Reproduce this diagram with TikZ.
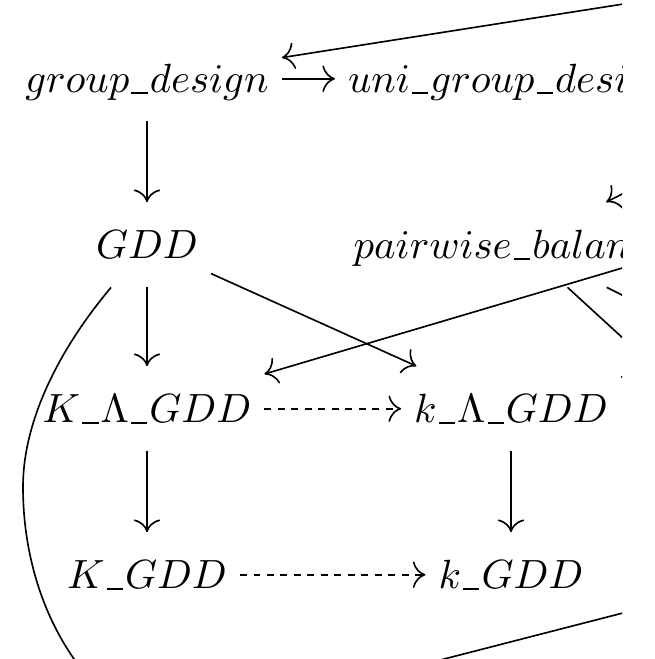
\documentclass[tikz,border=0pt]{standalone}
\usetikzlibrary{arrows.meta}
\newcommand\usc{\mbox{\kern0.5pt\rule[-0.5pt]{4pt}{0.45pt}\kern0.5pt}}
\begin{document}
\begin{tikzpicture}[x=0.245pt,y=-0.245pt,
  cell/.style={inner xsep=3pt, inner ysep=5.5pt, text height=8pt, text depth=1.5pt, anchor=base, font=\fontsize{10}{12}\selectfont},
  arr/.style={-{Computer Modern Rightarrow[scale=1.25]}, line width=0.4pt},
  dasharr/.style={arr, dash pattern=on 1.7pt off 1.6pt},
  plainline/.style={line width=0.4pt}]
\useasboundingbox (0,0) rectangle (654,659);
\clip (0,0) rectangle (622,659);
% nodes
\node[cell] (gd)  at (147,92)  {$group\usc design$};
\node[cell] (ugd) at (511,92)  {$uni\usc group\usc design$};
\node[cell] (gdd) at (147,258) {$GDD$};
\node[cell] (pbd) at (521,258) {$pairwise\usc balanced$};
\node[cell] (KLG) at (147,422) {$K\usc\Lambda\usc GDD$};
\node[cell] (kLG) at (511,422) {$k\usc\Lambda\usc GDD$};
\node[cell] (KG)  at (147,588) {$K\usc GDD$};
\node[cell] (kG)  at (511,588) {$k\usc GDD$};
% off-picture ends
\coordinate (c1)  at (700,-8);
\coordinate (c6)  at (700,245);
\coordinate (c7)  at (721,428);
\coordinate (c8)  at (821,394);
\coordinate (c9)  at (854,78);
\coordinate (c10) at (947,284);
\coordinate (c11) at (100,690);
\coordinate (c12a) at (137,738);
\coordinate (c12b) at (1000,516);
% edges
\draw[arr] (gd) -- (ugd);
\draw[arr] (c1) -- (gd);
\draw[arr] (gd) -- (gdd);
\draw[arr] (gdd) -- (KLG);
\draw[arr] (gdd) -- (kLG);
\draw[arr] (c6) -- (KLG);
\draw[plainline] (pbd) -- (c7);
\draw[plainline] (pbd) -- (c8);
\draw[arr] (c9) -- (pbd);
\draw[arr] (c10) -- (kLG);
\draw[dasharr] (KLG) -- (kLG);
\draw[arr] (KLG) -- (KG);
\draw[arr] (kLG) -- (kG);
\draw[dasharr] (KG) -- (kG);
\draw[plainline] (gdd) .. controls (60,348) and (23,420) .. (23,487) .. controls (23,565) and (50,640) .. (c11);
\draw[plainline] (c12a) -- (c12b);
\end{tikzpicture}
\end{document}
